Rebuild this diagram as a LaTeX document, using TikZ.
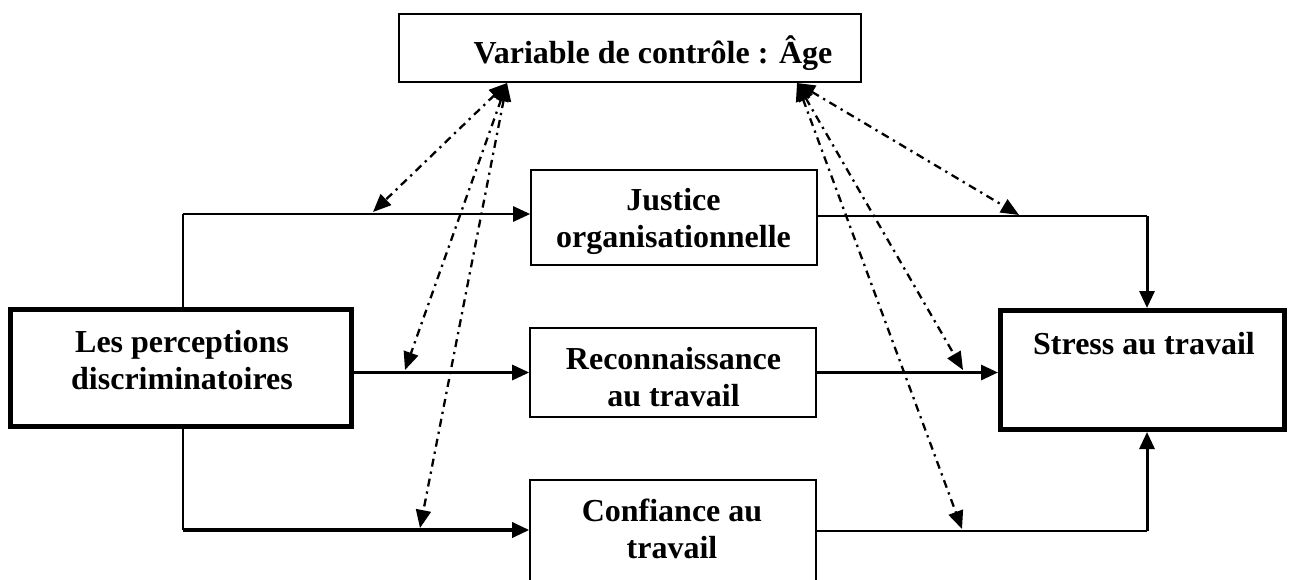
\documentclass[tikz,border=0pt]{standalone}
\usepackage{fontspec}
\setmainfont{Liberation Serif}
\usetikzlibrary{arrows.meta}
\tikzset{
  thickbox/.style={draw, line width=5pt},
  lbl/.style={font=\fontsize{32}{37}\selectfont\bfseries, align=center, inner sep=0pt, anchor=base},
  tip/.style={-{Triangle[length=17pt,width=15pt]}},
  flow/.style={line width=#1},
  dashdot/.style={line width=2.3pt, dash pattern=on 8pt off 5pt on 2.3pt off 5pt,
     {Triangle[length=18pt,width=15pt]}-{Triangle[length=18pt,width=15pt]}},
}
\begin{document}
\begin{tikzpicture}[x=1pt,y=-1pt]
\clip (0,0) rectangle (1290,579);
\useasboundingbox (0,0) rectangle (1290,579);
% boxes
\node[draw, line width=1.8pt, minimum width=462pt, minimum height=68pt, inner sep=0pt] (A) at (630,48) {};
\node[thickbox, minimum width=341pt, minimum height=117pt, inner sep=0pt] (P) at (181,368) {};
\node[draw, line width=1.6pt, minimum width=286pt, minimum height=95pt, inner sep=0pt] (J) at (674,217.5) {};
\node[draw, line width=1.6pt, minimum width=286pt, minimum height=89pt, inner sep=0pt] (R) at (673,372.5) {};
\node[draw, line width=1.6pt, minimum width=286pt, minimum height=120pt, inner sep=0pt] (C) at (673,540) {};
\node[thickbox, minimum width=284pt, minimum height=119pt, inner sep=0pt] (S) at (1142.5,370) {};
% texts (base = baseline of last line)
\node[lbl] (tA) at (653,63) {Variable de contrôle : Âge};
\node[lbl] (tP) at (182,389) {Les perceptions\\discriminatoires};
\node[lbl] (tJ) at (673.5,247) {Justice\\organisationnelle};
\node[lbl] (tR) at (673.5,406) {Reconnaissance\\au travail};
\node[lbl] (tC) at (672,558) {Confiance au\\travail};
\node[lbl] (tS) at (1144,354) {Stress au travail};
% coordinates
\coordinate (jc) at (183,214);
\coordinate (cc) at (183,530);
\coordinate (sj) at (1147,216);
\coordinate (sc) at (1147,531);
\coordinate (tl) at (507,83);
\coordinate (tr) at (797,83);
\coordinate (d1) at (373,212);
\coordinate (d2) at (405,370);
\coordinate (d3) at (420,528);
\coordinate (d4) at (1019,215);
\coordinate (d5) at (963,370);
\coordinate (d6) at (962,529);
% solid connectors
\draw[flow=1.6pt] (P.north -| jc) -- (jc);
\draw[flow=2.6pt, tip] (jc) -- (J.west |- jc);
\draw[flow=3pt, tip] (P.east |- R.west) -- (R.west);
\draw[flow=1.6pt] (P.south -| cc) -- (cc);
\draw[flow=3.4pt, tip] (cc) -- (C.west |- cc);
\draw[flow=1.6pt] (J.east |- sj) -- (sj);
\draw[flow=3pt, tip] (sj) -- (S.north -| sj);
\draw[flow=3pt, tip] (R.east) -- (S.west |- R.east);
\draw[flow=1.6pt] (C.east |- sc) -- (sc);
\draw[flow=3pt, tip] (sc) -- (S.south -| sc);
% dash-dot connectors
\draw[dashdot] (tl) -- (d1);
\draw[dashdot] (tl) -- (d2);
\draw[dashdot] (tl) -- (d3);
\draw[dashdot] (tr) -- (d4);
\draw[dashdot] (tr) -- (d5);
\draw[dashdot] (tr) -- (d6);
\end{tikzpicture}
\end{document}
